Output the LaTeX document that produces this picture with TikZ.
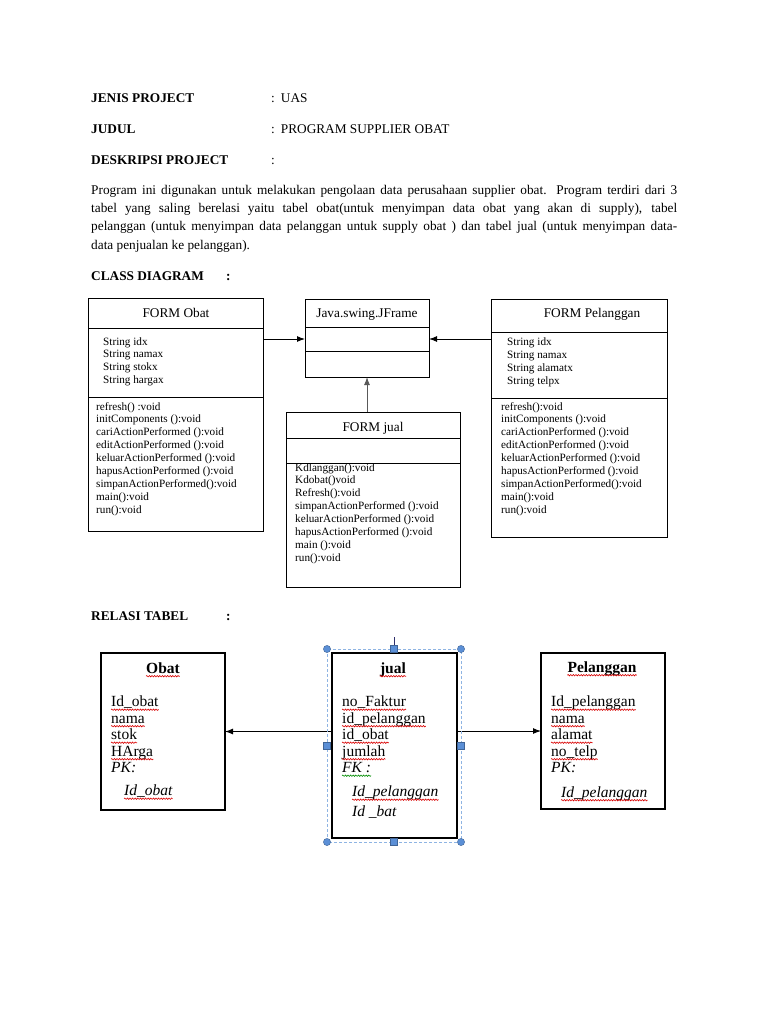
\documentclass[tikz,border=0pt]{standalone}
\usepackage{fontspec}
\setmainfont{Liberation Serif}
\usetikzlibrary{arrows.meta,decorations.pathmorphing}
\definecolor{hblue}{HTML}{5B8FD6}
\definecolor{selblue}{HTML}{8EB4E3}
\newcommand\plines[1]{\parbox[t]{220pt}{\raggedright #1}}
\newcommand\wavyul[1]{\draw[wavy] (#1.south west) -- (#1.south east);}
\begin{document}
\begin{tikzpicture}[x=1pt,y=-1pt,
  hdr/.style={font=\bfseries\fontsize{13.3}{16}\selectfont, anchor=base west, inner sep=0},
  txt/.style={font=\fontsize{13.3}{16}\selectfont, anchor=base west, inner sep=0},
  cbox/.style={draw, line width=1pt, inner sep=0, outer sep=0, anchor=north west},
  ttl/.style={font=\fontsize{13.3}{16}\selectfont, inner sep=0, anchor=base},
  mem/.style={font=\fontsize{11.2}{12.9}\selectfont, anchor=base west, inner sep=0},
  arr/.style={-{Latex[length=8pt,width=6pt]}, line width=1pt},
  rbox/.style={draw, line width=1.1pt, inner sep=0, outer sep=0, anchor=north west},
  rl/.style={font=\fontsize{15.5}{16.5}\selectfont, anchor=base west, inner sep=0, text depth=3pt},
  rt/.style={font=\bfseries\fontsize{15.5}{16.5}\selectfont, anchor=base, inner sep=0, text depth=3pt},
  wavy/.style={draw=red!85!black, line width=0.6pt, decorate, decoration={snake, amplitude=0.7pt, segment length=2.6pt}},
  handle/.style={fill=hblue, draw=hblue!70!black, line width=0.4pt}
]
\fill[white] (0,0) rectangle (768,1024);
\useasboundingbox (0,0) rectangle (768,1024);

% ---------- header ----------
\node[hdr] (h1) at (91,103) {JENIS PROJECT};
\node[txt] (v1) at (271,103) {:\hspace{6pt}UAS};
\node[hdr] (h2) at (91,134) {JUDUL};
\node[txt] (v2) at (271,134) {:\hspace{6pt}PROGRAM SUPPLIER OBAT};
\node[hdr] (h3) at (91,165) {DESKRIPSI PROJECT};
\node[txt] (v3) at (271,165) {:};

\node[txt] (p1) at (91,195) {\makebox[586pt][s]{Program ini digunakan untuk melakukan pengolaan data perusahaan supplier obat. Program terdiri dari 3}};
\node[txt] (p2) at (91,213) {\makebox[586pt][s]{tabel yang saling berelasi yaitu tabel obat(untuk menyimpan data obat yang akan di supply), tabel}};
\node[txt] (p3) at (91,231) {\makebox[586pt][s]{pelanggan (untuk menyimpan data pelanggan untuk supply obat ) dan tabel jual (untuk menyimpan data-}};
\node[txt] (p4) at (91,249) {data penjualan ke pelanggan).};

\node[hdr] (h4) at (91,280) {CLASS DIAGRAM};
\node[hdr] (c4) at (226,280) {:};

% ---------- class diagram ----------
\node[cbox, minimum width=175pt, minimum height=30pt]  (obT) at (88,298) {};
\node[cbox, minimum width=175pt, minimum height=69pt]  (obA) at (88,328) {};
\node[cbox, minimum width=175pt, minimum height=134pt] (obM) at (88,397) {};

\node[cbox, minimum width=124pt, minimum height=28pt] (jfT) at (305,299) {};
\node[cbox, minimum width=124pt, minimum height=24pt] (jfA) at (305,327) {};
\node[cbox, minimum width=124pt, minimum height=26pt] (jfM) at (305,351) {};

\node[cbox, minimum width=174pt, minimum height=26pt]  (juT) at (286,412) {};
\node[cbox, minimum width=174pt, minimum height=25pt]  (juA) at (286,438) {};
\node[cbox, minimum width=174pt, minimum height=124pt] (juM) at (286,463) {};

\node[cbox, minimum width=176pt, minimum height=33pt]  (peT) at (491,299) {};
\node[cbox, minimum width=176pt, minimum height=66pt]  (peA) at (491,332) {};
\node[cbox, minimum width=176pt, minimum height=139pt] (peM) at (491,398) {};

\node[ttl] (obTt) at (176,317.5) {FORM Obat};
\node[ttl] (jfTt) at (367,317.5) {Java.swing.JFrame};
\node[ttl] (juTt) at (373,431) {FORM jual};
\node[ttl] (peTt) at (592,317) {FORM Pelanggan};

\node[mem] (obAt) at (103,345) {\plines{String idx\\String namax\\String stokx\\String hargax}};
\node[mem] (obMt) at (96,410) {\plines{refresh() :void\\initComponents ():void\\cariActionPerformed ():void\\editActionPerformed ():void\\keluarActionPerformed ():void\\hapusActionPerformed ():void\\simpanActionPerformed():void\\main():void\\run():void}};
\node[mem] (juMt) at (295,471) {\plines{Kdlanggan():void\\Kdobat()void\\Refresh():void\\simpanActionPerformed ():void\\keluarActionPerformed ():void\\hapusActionPerformed ():void\\main ():void\\run():void}};
\node[mem] (peAt) at (507,345.5) {\plines{String idx\\String namax\\String alamatx\\String telpx}};
\node[mem] (peMt) at (501,410) {\plines{refresh():void\\initComponents ():void\\cariActionPerformed ():void\\editActionPerformed ():void\\keluarActionPerformed ():void\\hapusActionPerformed ():void\\simpanActionPerformed():void\\main():void\\run():void}};

\draw[arr] (obA.east |- jfA.west) -- (jfA.west);
\draw[arr] (peA.west |- jfA.east) -- (jfA.east);
\draw[arr, draw=gray!70!black] (juT.north -| jfM.south) -- (jfM.south);

% ---------- relasi tabel ----------
\node[hdr] (h5) at (91,620) {RELASI TABEL};
\node[hdr] (c5) at (226,620) {:};

\node[rbox, minimum width=124pt, minimum height=157pt] (obat) at (101,653) {};
\node[rbox, minimum width=125pt, minimum height=185pt] (jual) at (332,653) {};
\node[rbox, minimum width=124pt, minimum height=156pt] (pel)  at (541,653) {};

% Obat
\node[rt] (obat0) at (163,673) {Obat};
\node[rl] (obat1) at (111,706.5) {Id\_obat};
\node[rl] (obat2) at (111,723) {nama};
\node[rl] (obat3) at (111,739.5) {stok};
\node[rl] (obat4) at (111,756) {HArga};
\node[rl] (obat5) at (111,772.5) {\itshape PK:};
\node[rl] (obat6) at (124,795.5) {\itshape Id\_obat};
\foreach \n in {obat0,obat1,obat2,obat3,obat4,obat6} {\wavyul{\n}}

% jual
\node[rt] (jual0) at (393,673) {jual};
\node[rl] (jual1) at (342,706.5) {no\_Faktur};
\node[rl] (jual2) at (342,723) {id\_pelanggan};
\node[rl] (jual3) at (342,739.5) {id\_obat};
\node[rl] (jual4) at (342,756) {jumlah};
\node[rl] (jual5) at (342,772.5) {\itshape FK :};
\node[rl] (jual6) at (352,796.5) {\itshape Id\_pelanggan};
\node[rl] (jual7) at (352,816.5) {\itshape Id \_bat};
\foreach \n in {jual0,jual1,jual2,jual3,jual4,jual6} {\wavyul{\n}}
\draw[wavy, draw=green!55!black] (jual5.south west) -- (jual5.south east);

% Pelanggan
\node[rt] (pel0) at (602,672) {Pelanggan};
\node[rl] (pel1) at (551,706.5) {Id\_pelanggan};
\node[rl] (pel2) at (551,723) {nama};
\node[rl] (pel3) at (551,739.5) {alamat};
\node[rl] (pel4) at (551,756) {no\_telp};
\node[rl] (pel5) at (551,772.5) {\itshape PK:};
\node[rl] (pel6) at (561,797) {\itshape Id\_pelanggan};
\foreach \n in {pel0,pel1,pel2,pel3,pel4,pel6} {\wavyul{\n}}

\draw[arr] (jual.west |- obat.east) -- (obat.east);
\draw[arr] (jual.east |- pel.west) -- (pel.west);

% selection frame around jual
\draw[selblue, densely dashed, line width=0.7pt] (327,649) rectangle (461,842);
\draw[gray!60!blue!60!black, line width=0.8pt] (394,637) -- (394,649);
\foreach \p in {(327,649),(461,649),(327,842),(461,842)} {\draw[handle] \p circle[radius=3.6pt];}
\foreach \p in {(394,649),(394,842),(327,746),(461,746)} {\draw[handle] \p ++(-3.5,-3.5) rectangle ++(7,7);}
\end{tikzpicture}
\end{document}
